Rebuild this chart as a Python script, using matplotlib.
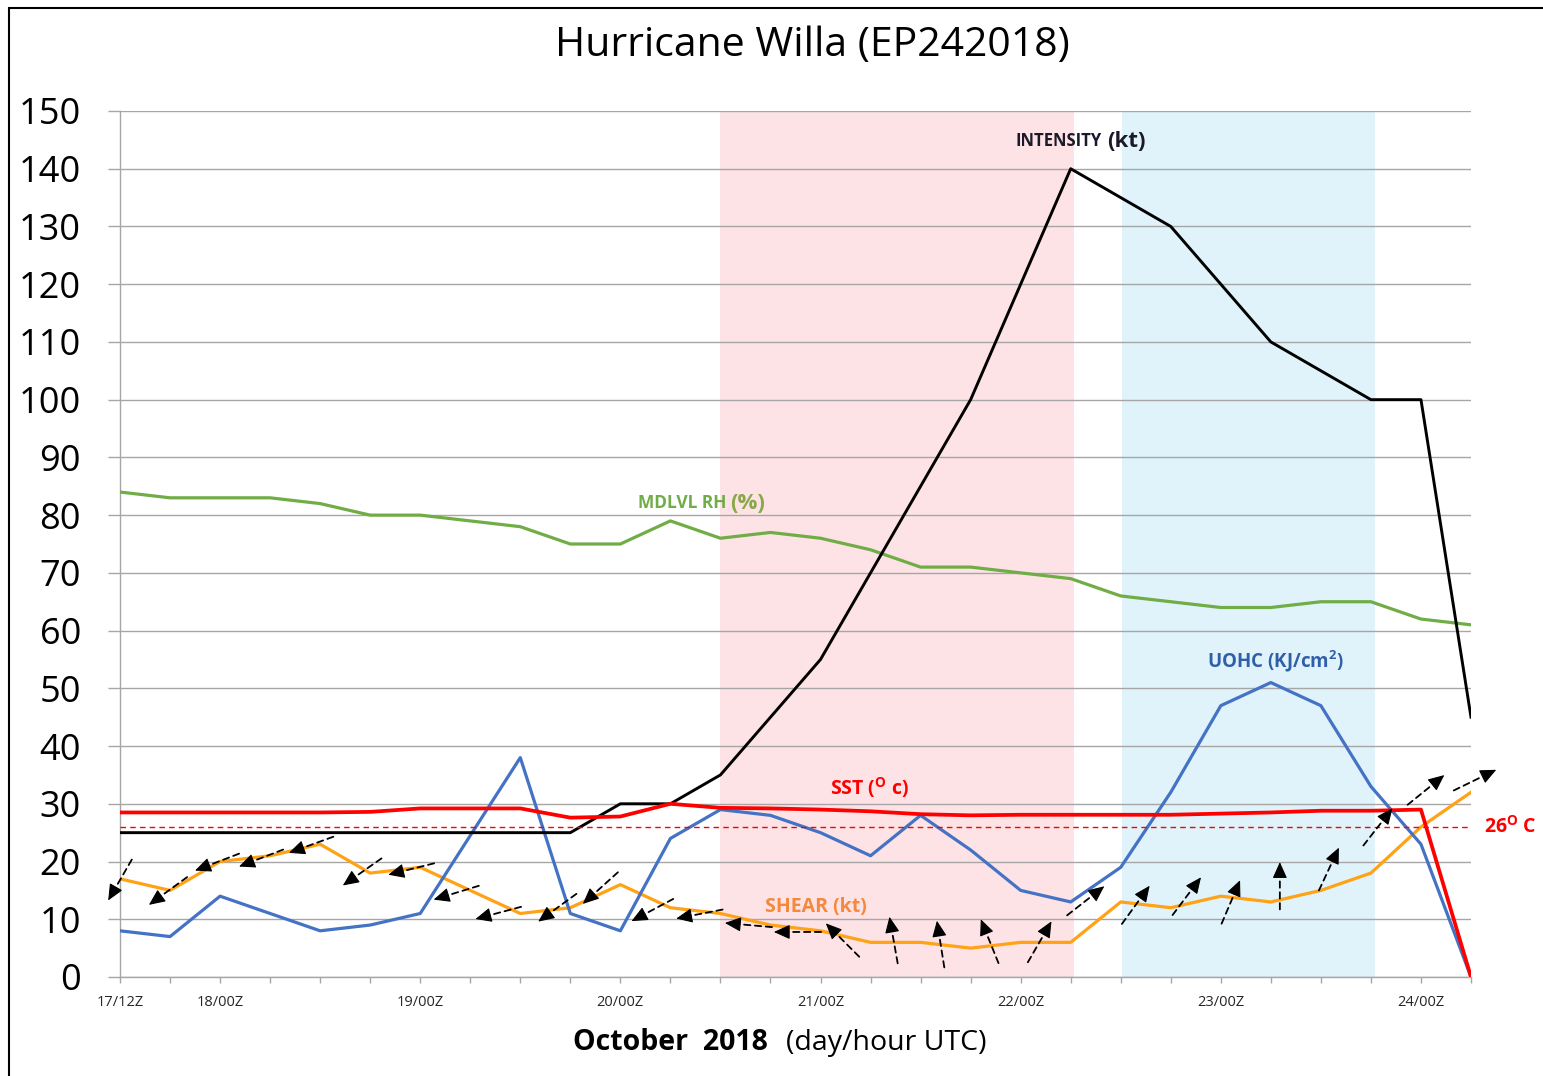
import matplotlib
matplotlib.use("Agg")
import matplotlib.pyplot as plt
from matplotlib.patches import Rectangle
from matplotlib.transforms import offset_copy
import numpy as np

# ──────────────────────────────────────────────────────────────────────────────
# Data (6-hourly, 17/12Z .. 24/06Z)
tick_labels = ["17/12Z", "", "18/00Z", "", "", "", "19/00Z", "", "", "", "20/00Z",
               "", "", "", "21/00Z", "", "", "", "22/00Z", "", "", "", "23/00Z",
               "", "", "", "24/00Z", ""]
intensity = [25, 25, 25, 25, 25, 25, 25, 25, 25, 25, 30, 30, 35, 45, 55, 70, 85,
             100, 120, 140, 135, 130, 120, 110, 105, 100, 100, 45]
mdlvl_rh = [84, 83, 83, 83, 82, 80, 80, 79, 78, 75, 75, 79, 76, 77, 76, 74, 71,
            71, 70, 69, 66, 65, 64, 64, 65, 65, 62, 61]
sst = [28.5, 28.5, 28.5, 28.5, 28.5, 28.6, 29.2, 29.2, 29.2, 27.6, 27.8, 30.0,
       29.3, 29.2, 29.0, 28.7, 28.2, 28.0, 28.1, 28.1, 28.1, 28.1, 28.3, 28.5,
       28.8, 28.8, 29.0, 0]
shear = [17, 15, 20, 21, 23, 18, 19, 15, 11, 12, 16, 12, 11, 9, 8, 6, 6, 5, 6, 6,
         13, 12, 14, 13, 15, 18, 26, 32]
uohc = [8, 7, 14, 11, 8, 9, 11, 24.5, 38, 11, 8, 24, 29, 28, 25, 21, 28, 22, 15,
        13, 19, 32, 47, 51, 47, 33, 23, 0]
sst_threshold = 26

# shear direction arrows: position (time index, value) and direction (deg)
arrow_t = [0.0, 0.96, 1.94, 2.82, 3.82, 4.84, 5.82, 6.72, 7.56, 8.74, 9.6, 10.64,
           11.58, 12.56, 13.54, 14.44, 15.46, 16.4, 17.38, 18.38, 19.3, 20.3,
           21.32, 22.2, 23.18, 24.16, 25.14, 26.1, 27.08]
arrow_v = [16.8, 14.9, 19.9, 20.6, 22.9, 18.2, 18.7, 14.6, 11.1, 12.0, 15.4, 11.6,
           10.9, 9.0, 7.8, 6.4, 6.4, 5.7, 6.2, 6.1, 13.2, 12.5, 14.0, 13.0, 15.8,
           18.7, 26.0, 32.4, 34.1]
arrow_dir = [240, 216, 201, 201, 200, 215, 194, 197, 195, 216, 222, 208, 191,
             175, 180, 135, 100, 99, 112, 60, 38, 54, 53, 67, 90, 65, 52, 39, 26]

# shaded periods (time index)
rapid_intens = (12, 19.06)
weakening = (20.02, 25.08)
# ──────────────────────────────────────────────────────────────────────────────

plt.rcParams["font.family"] = ["Open Sans", "DejaVu Sans"]
plt.rcParams["mathtext.fontset"] = "custom"
plt.rcParams["mathtext.rm"] = "Open Sans"
plt.rcParams["mathtext.bf"] = "Open Sans:bold"

GREEN = "#70ad47"
BLUE = "#4472c4"
ORANGE = "#ffa216"
RED = "#ff0000"
GRID = "#a6a6a6"

fig = plt.figure(figsize=(15.43, 10.76), dpi=100)
ax = fig.add_axes([120 / 1543, 1 - 977 / 1076, (1471 - 120) / 1543, (977 - 111) / 1076])

t = np.arange(len(intensity))

ax.axvspan(*rapid_intens, color="#fde3e6", lw=0, zorder=0)
ax.axvspan(*weakening, color="#e0f3fb", lw=0, zorder=0)

ax.plot(t, mdlvl_rh, color=GREEN, lw=2.3, zorder=3)
ax.plot(t, shear, color=ORANGE, lw=2.3, zorder=3)
ax.plot(t, uohc, color=BLUE, lw=2.3, zorder=3)
ax.plot(t, intensity, color="black", lw=2.1, zorder=3)
ax.plot(t, sst, color=RED, lw=2.7, zorder=4)
ax.axhline(sst_threshold, color=RED, lw=1.0, ls=(0, (4, 3)), zorder=3)


def offset(dx, dy):
    return offset_copy(ax.transData, fig=fig, x=dx, y=dy, units="points")


# shear vectors: dashed shaft + solid head
half = 17  # points
head_len = 10
for ta, va, d in zip(arrow_t, arrow_v, arrow_dir):
    ux, uy = np.cos(np.radians(d)), np.sin(np.radians(d))
    ax.annotate("", xy=(ta, va), xycoords=offset((half - head_len + 1) * ux,
                                                  (half - head_len + 1) * uy),
                xytext=(ta, va), textcoords=offset(-half * ux, -half * uy),
                arrowprops=dict(arrowstyle="-", color="black", lw=1.3,
                                ls=(0, (3.5, 2.5)), shrinkA=0, shrinkB=0),
                zorder=5, annotation_clip=False)
    ax.annotate("", xy=(ta, va), xycoords=offset(half * ux, half * uy),
                xytext=(ta, va), textcoords=offset((half - head_len) * ux,
                                                   (half - head_len) * uy),
                arrowprops=dict(arrowstyle="-|>,head_length=1.0,head_width=0.45",
                                color="black", lw=0.8, shrinkA=0, shrinkB=0,
                                mutation_scale=10),
                zorder=5, annotation_clip=False)

ax.set_xlim(0, len(intensity) - 1)
ax.set_ylim(0, 150)
ax.set_yticks(np.arange(0, 151, 10))
ax.set_xticks(t)
ax.set_xticklabels(tick_labels, fontsize=10.5, color="#262626")
ax.tick_params(axis="y", length=9, width=1, color=GRID, pad=19, labelsize=26)
ax.tick_params(axis="x", length=4, width=1, color=GRID, pad=9)
ax.grid(axis="y", color=GRID, lw=1)
for s in ["top", "right"]:
    ax.spines[s].set_visible(False)
for s in ["left", "bottom"]:
    ax.spines[s].set_color(GRID)
    ax.spines[s].set_linewidth(1)

# series labels
ax.text(19.62, 144.8, "INTENSITY", ha="right", va="center", fontsize=12,
        fontweight="bold", color="#1a1a2a")
ax.text(19.72, 144.8, "(kt)", ha="left", va="center", fontsize=16,
        fontweight="bold", color="#1a1a2a")
ax.text(12.12, 82.1, "MDLVL RH", ha="right", va="center", fontsize=12.5,
        fontweight="bold", color=GREEN)
ax.text(12.54, 82.1, "(%)", ha="center", va="center", fontsize=16,
        fontweight="bold", color="#8aa84a")
ax.text(23.1, 54.7, r"UOHC (KJ/cm$^{\mathbf{2}}$)", ha="center", va="center",
        fontsize=13.5, fontweight="bold", color="#2f5fa8")
ax.text(14.98, 32.9, r"SST ($^{\mathbf{O}}$ c)", ha="center", va="center",
        fontsize=14, fontweight="bold", color=RED)
ax.text(13.9, 12.1, "SHEAR (kt)", ha="center", va="center", fontsize=14,
        fontweight="bold", color="#f4893c")
ax.text(27.78, 26.0, r"26$^{\mathbf{O}}$ C", ha="center", va="center",
        fontsize=14, fontweight="bold", color=RED, clip_on=False)

fig.text(812 / 1543, 1 - 46 / 1076, "Hurricane Willa (EP242018)", ha="center",
         va="center", fontsize=29.5)
fig.text(768 / 1543, 1 - 1043 / 1076, "October  2018", ha="right", va="center",
         fontsize=20.5, fontweight="bold")
fig.text(786 / 1543, 1 - 1043 / 1076, "(day/hour UTC)", ha="left", va="center",
         fontsize=20.5)

fig.patches.append(Rectangle((9 / 1543, -0.05), 1.2, 1 - 8 / 1076 + 0.05,
                             transform=fig.transFigure, fill=False,
                             edgecolor="black", lw=1.5, zorder=10))

fig.savefig("out.png", dpi=100)
